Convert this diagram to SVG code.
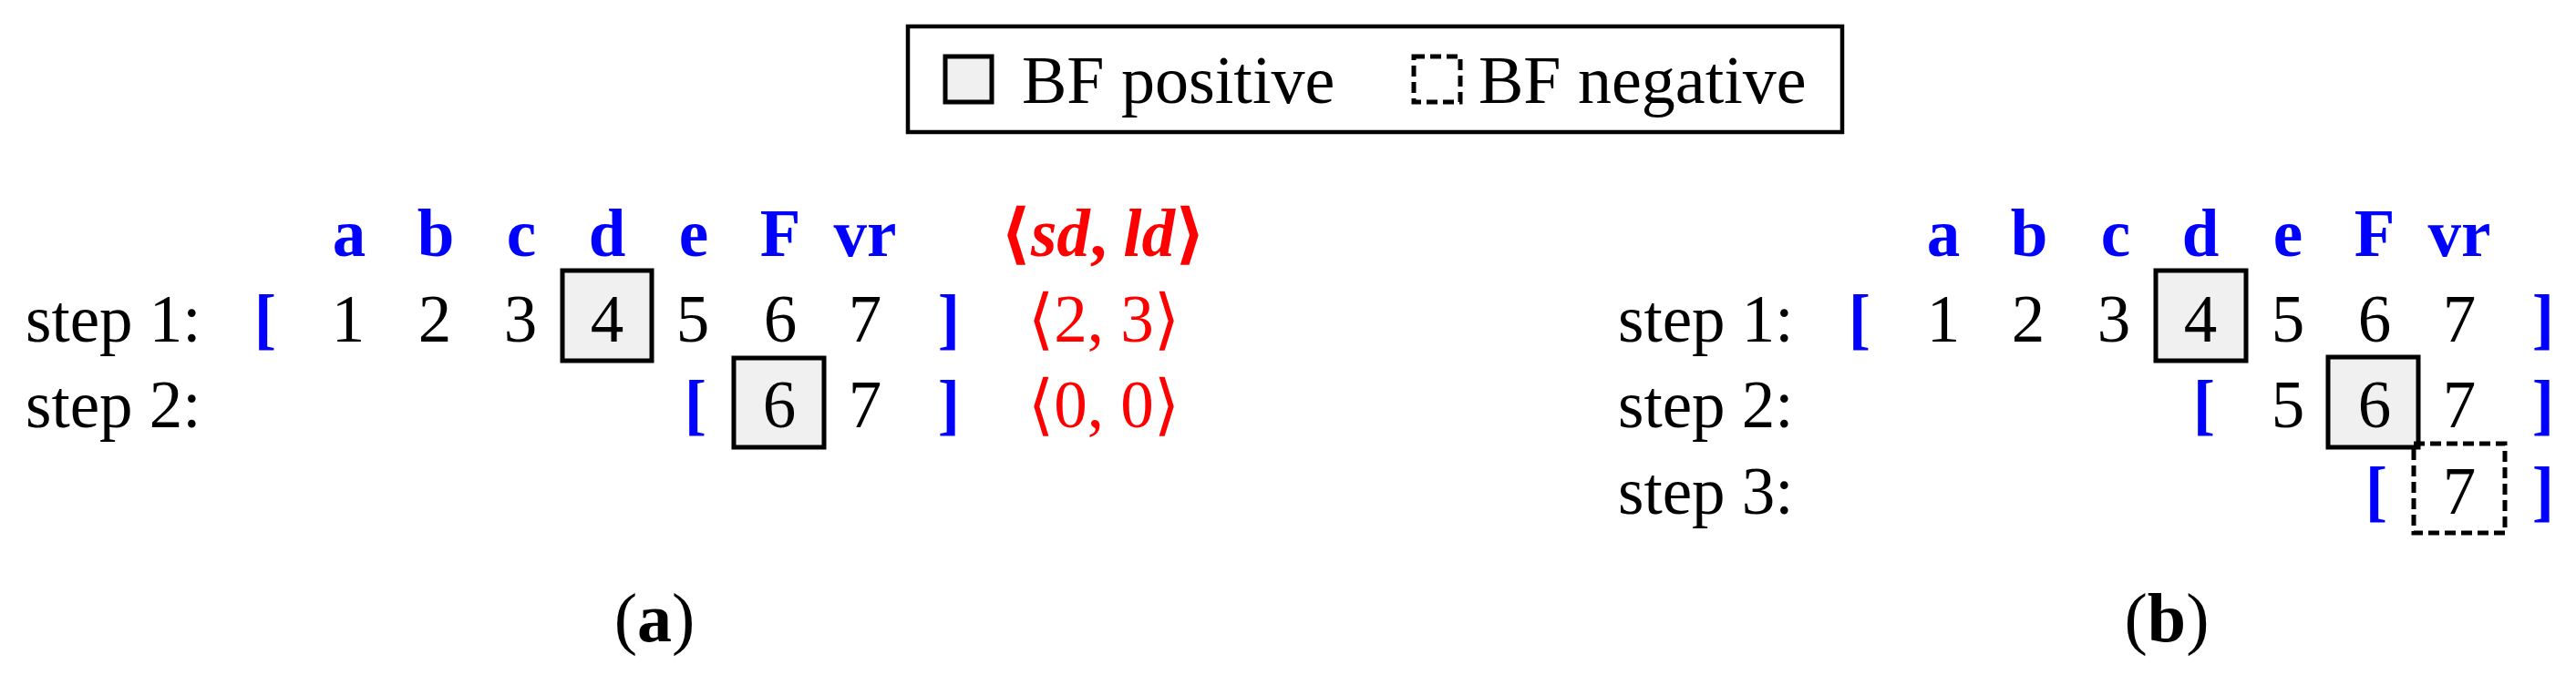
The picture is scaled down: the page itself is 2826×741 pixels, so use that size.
<svg xmlns="http://www.w3.org/2000/svg" width="2826" height="741" viewBox="0 0 2826 741">
<style>
text{font-family:"Liberation Serif","DejaVu Serif",serif;font-size:73px}
.n{fill:#000;text-anchor:middle}
.s{fill:#000}
.lab{fill:#0000ff;font-weight:bold;text-anchor:middle}
.br{fill:#0000ff;font-weight:bold;text-anchor:middle}
.red{fill:#ff0000;text-anchor:middle}
.pos{fill:#f0f0f0;stroke:#000;stroke-width:5}
.neg{fill:none;stroke:#000;stroke-width:5;stroke-dasharray:12 6}
.cap{font-size:76px;text-anchor:middle;fill:#000}
</style>
<g id="legend">
<rect x="996" y="29" width="1025" height="116" fill="#fff" stroke="#000" stroke-width="4.5"/>
<rect class="pos" x="1037" y="62" width="51" height="50"/>
<text class="s" x="1121" y="113" style="font-size:74px">BF positive</text>
<rect class="neg" x="1551" y="62" width="51" height="50"/>
<text class="s" x="1622" y="113" style="font-size:74px">BF negative</text>
</g>
<g id="panel-a">
<g id="a-labels">
<text class="lab" x="383" y="281">a</text>
<text class="lab" x="478" y="281">b</text>
<text class="lab" x="572" y="281">c</text>
<text class="lab" x="666" y="281">d</text>
<text class="lab" x="761" y="281">e</text>
<text class="lab" x="856" y="281">F</text>
<text class="lab" x="949" y="281">vr</text>
<text class="red" x="1210" y="281" font-weight="bold">⟨<tspan font-style="italic">sd</tspan>, <tspan font-style="italic">ld</tspan>⟩</text>
</g>
<g id="a-step1">
<rect class="pos" x="617" y="297" width="98" height="99"/>
<text class="s" x="28" y="375">step 1:</text>
<text class="br" x="291" y="375">[</text>
<text class="n" x="382" y="375">1</text>
<text class="n" x="477" y="375">2</text>
<text class="n" x="571" y="375">3</text>
<text class="n" x="666" y="375">4</text>
<text class="n" x="760" y="375">5</text>
<text class="n" x="856" y="375">6</text>
<text class="n" x="949" y="375">7</text>
<text class="br" x="1041" y="375">]</text>
<text class="red" x="1211" y="375">⟨2, 3⟩</text>
</g>
<g id="a-step2">
<rect class="pos" x="805" y="393" width="99" height="98"/>
<text class="s" x="28" y="469">step 2:</text>
<text class="br" x="763" y="469">[</text>
<text class="n" x="855" y="469">6</text>
<text class="n" x="949" y="469">7</text>
<text class="br" x="1041" y="469">]</text>
<text class="red" x="1211" y="469">⟨0, 0⟩</text>
</g>
<text class="cap" x="718" y="704">(<tspan font-weight="bold">a</tspan>)</text>
</g>
<g id="panel-b">
<g id="b-labels">
<text class="lab" x="2132" y="281">a</text>
<text class="lab" x="2226" y="281">b</text>
<text class="lab" x="2321" y="281">c</text>
<text class="lab" x="2414" y="281">d</text>
<text class="lab" x="2510" y="281">e</text>
<text class="lab" x="2605" y="281">F</text>
<text class="lab" x="2698" y="281">vr</text>
</g>
<g id="b-step1">
<rect class="pos" x="2365" y="297" width="99" height="99"/>
<text class="s" x="1775" y="375">step 1:</text>
<text class="br" x="2040" y="375">[</text>
<text class="n" x="2132" y="375">1</text>
<text class="n" x="2225" y="375">2</text>
<text class="n" x="2319" y="375">3</text>
<text class="n" x="2414" y="375">4</text>
<text class="n" x="2510" y="375">5</text>
<text class="n" x="2605" y="375">6</text>
<text class="n" x="2698" y="375">7</text>
<text class="br" x="2790" y="375">]</text>
</g>
<g id="b-step2">
<rect class="pos" x="2554" y="392" width="99" height="99"/>
<text class="s" x="1775" y="469">step 2:</text>
<text class="br" x="2418" y="469">[</text>
<text class="n" x="2510" y="469">5</text>
<text class="n" x="2605" y="469">6</text>
<text class="n" x="2698" y="469">7</text>
<text class="br" x="2790" y="469">]</text>
</g>
<g id="b-step3">
<rect class="neg" x="2648" y="487" width="100" height="98"/>
<text class="s" x="1775" y="564">step 3:</text>
<text class="br" x="2607" y="564">[</text>
<text class="n" x="2698" y="564">7</text>
<text class="br" x="2790" y="564">]</text>
</g>
<text class="cap" x="2377" y="704">(<tspan font-weight="bold">b</tspan>)</text>
</g>
<g id="connectors"/>
</svg>
